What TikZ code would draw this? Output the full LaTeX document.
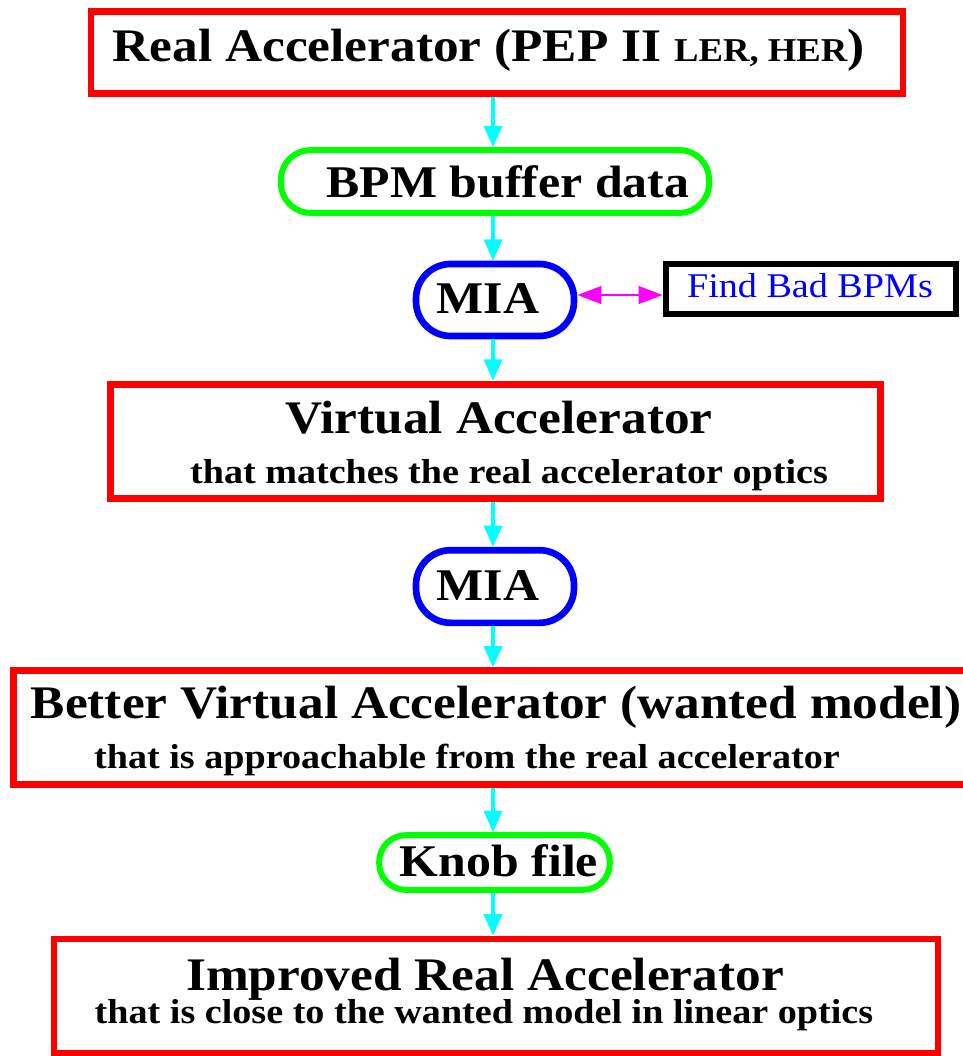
\documentclass[tikz,border=0pt]{standalone}
\usepackage{fontspec}
\setmainfont[FakeStretch=1.1]{Liberation Serif}
\usepackage{tikz}
\usetikzlibrary{arrows.meta}

\definecolor{boxred}{rgb}{1,0,0}
\definecolor{flowcyan}{rgb}{0,1,1}
\definecolor{pillgreen}{rgb}{0,1,0}
\definecolor{pillblue}{rgb}{0,0,1}
\definecolor{linkmag}{rgb}{1,0,1}

\tikzset{
    accbox/.style={draw=boxred, line width=5.2pt, inner sep=0pt},
    pill/.style={line width=4.5pt, rounded corners=#1, inner sep=0pt},
    headtxt/.style={anchor=base, inner sep=0pt, font=\bfseries\fontsize{35}{38}\selectfont},
    subtxt/.style={anchor=base, inner sep=0pt, font=\bfseries\fontsize{26}{28}\selectfont},
    pilltxt/.style={anchor=base, inner sep=0pt, font=\bfseries\fontsize{34}{38}\selectfont},
    flow/.style={draw=flowcyan, line width=2.6pt, -{Triangle[width=13.5pt,length=16pt]}},
}

\begin{document}
\begin{tikzpicture}[x=0.75pt,y=0.75pt,yscale=-1,xscale=1]
        \useasboundingbox (0,0) rectangle (963,1056);

        % frames
        \node [accbox, minimum width=609pt, minimum height=62pt] (real) at (497,52.5) {};
        \node [pill=22pt, draw=pillgreen, minimum width=321pt, minimum height=47pt] (bpm) at (495,181.5) {};
        \node [pill=26pt, draw=pillblue, line width=5pt, minimum width=118.5pt, minimum height=54pt] (mia1) at (495,300) {};
        \node [draw=black, line width=5pt, minimum width=217.5pt, minimum height=37.5pt, inner sep=0pt] (badbpm) at (811,289) {};
        \node [accbox, minimum width=577pt, minimum height=86pt] (virt) at (495.5,441.5) {};
        \node [pill=26pt, draw=pillblue, line width=5pt, minimum width=118.5pt, minimum height=54.5pt] (mia2) at (495,586.5) {};
        \node [accbox, minimum width=725pt, minimum height=85pt] (better) at (497,727.5) {};
        \node [pill=20pt, draw=pillgreen, minimum width=173pt, minimum height=41pt] (knob) at (494.5,862.5) {};
        \node [accbox, minimum width=663pt, minimum height=85.5pt] (impr) at (496,996) {};

        % texts
        \node [headtxt] (realtxt) at (488.5,62) {Real Accelerator (PEP II {\fontsize{25}{28}\selectfont LER, HER})};
        \node [pilltxt] (bpmtxt) at (508,197) {BPM buffer data};
        \node [pilltxt] (mia1txt) at (488,313.5) {MIA};
        \node [anchor=base, inner sep=0pt, text=pillblue, font=\fontsize{26}{28}\selectfont] (badtxt) at (810,297) {Find Bad BPMs};
        \node [headtxt] (virttxt) at (499,433) {Virtual Accelerator};
        \node [subtxt] (virtsub) at (509,483) {that matches the real accelerator optics};
        \node [pilltxt] (mia2txt) at (488,600) {MIA};
        \node [headtxt] (bettertxt) at (496,718) {Better Virtual Accelerator (wanted model)};
        \node [subtxt] (bettersub) at (467,768) {that is approachable from the real accelerator};
        \node [pilltxt] (knobtxt) at (499,876) {Knob file};
        \node [headtxt] (imprtxt) at (485,990) {Improved Real Accelerator};
        \node [subtxt] (imprsub) at (484,1023) {that is close to the wanted model in linear optics};

        % connectors
        \draw [flow] (real.south -| 493,0) -- (bpm.north -| 493,0);
        \draw [flow] (bpm.south -| 493,0) -- (mia1.north -| 493,0);
        \draw [flow] (mia1.south -| 493,0) -- (virt.north -| 493,0);
        \draw [flow] (virt.south -| 493,0) -- (mia2.north -| 493,0);
        \draw [flow] (mia2.south -| 493,0) -- (better.north -| 493,0);
        \draw [flow] (better.south -| 493,0) -- (knob.north -| 493,0);
        \draw [flow] (knob.south -| 493,0) -- (impr.north -| 493,0);

        \draw [draw=linkmag, line width=2.2pt, {Triangle[width=13pt,length=18pt]}-{Triangle[width=13pt,length=18pt]}]
            (mia1.east |- 0,295) -- (badbpm.west |- 0,295);
    \end{tikzpicture}
\end{document}
